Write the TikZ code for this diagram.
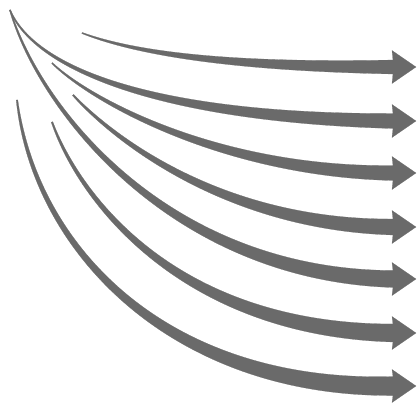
\documentclass[tikz,border=0pt]{standalone}
\usetikzlibrary{calc}
\definecolor{arrowgray}{RGB}{106,106,106}
\tikzset{arrowfill/.style={fill=arrowgray,draw=arrowgray,line width=0.2pt,line join=round}}
% #1 start, #2 first control, #3 second control, #4 end y, #5 start half-width,
% #6 half-width at first control, #7 half-width at second control, #8 end half-width
\newcommand\taperarrow[8]{%
  \fill[arrowfill]
    ($(#1)!#5pt!90:(#2)$)
    .. controls ($(#2)!#6pt!-90:(#1)$) and ($(#3)+(0,-#7)$) .. (393,#4-#8)
    -- (392,#4-16.5) -- (416,#4) -- (392,#4+16.5) -- (393,#4+#8)
    .. controls ($(#3)+(0,#7)$) and ($(#2)!#6pt!90:(#1)$) .. ($(#1)!#5pt!-90:(#2)$)
    -- cycle;}
\begin{document}
\begin{tikzpicture}[x=1pt,y=-1pt]
\useasboundingbox (0,0) rectangle (418,404);
% start and control points
\coordinate (s1) at (82,33);  \coordinate (a1) at (140,55);  \coordinate (b1) at (240,67);
\coordinate (s2) at (10,10);  \coordinate (a2) at (35,70);   \coordinate (b2) at (160,118);
\coordinate (s3) at (52,63);  \coordinate (a3) at (90,100);  \coordinate (b3) at (220,172);
\coordinate (s4) at (73,95);  \coordinate (a4) at (110,135); \coordinate (b4) at (220,225);
\coordinate (s5) at (10,10);  \coordinate (a5) at (40,110);  \coordinate (b5) at (170,275);
\coordinate (s6) at (52,122); \coordinate (a6) at (80,200);  \coordinate (b6) at (180,330);
\coordinate (s7) at (17,100); \coordinate (a7) at (35,250);  \coordinate (b7) at (170,390);
\taperarrow{s1}{a1}{b1}{67}{0.6}{1.8}{4}{7}
\taperarrow{s2}{a2}{b2}{121}{0.6}{1.5}{4}{7.5}
\taperarrow{s3}{a3}{b3}{173}{0.6}{1.8}{4.5}{7.5}
\taperarrow{s4}{a4}{b4}{227}{0.8}{2.2}{5}{8}
\taperarrow{s5}{a5}{b5}{279}{0.6}{2.2}{5.5}{8.5}
\taperarrow{s6}{a6}{b6}{333}{0.8}{2.8}{6}{9}
\taperarrow{s7}{a7}{b7}{386}{0.8}{4}{7}{9.5}
\end{tikzpicture}
\end{document}
